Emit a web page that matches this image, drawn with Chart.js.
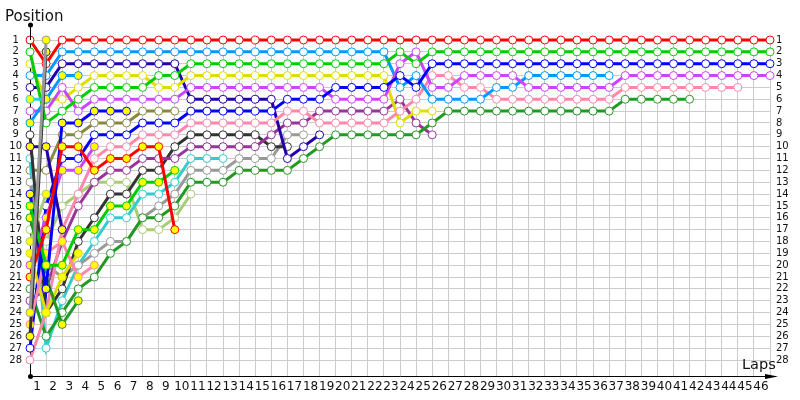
<!DOCTYPE html>
<html>
<head>
<meta charset="utf-8">
<script src="https://cdn.jsdelivr.net/npm/chart.js@4.4.1/dist/chart.umd.min.js"></script>
<style>
  html, body { margin: 0; padding: 0; background: #fff; }
  #wrap { width: 800px; height: 400px; }
</style>
</head>
<body>
<div id="wrap"><canvas id="chart"></canvas></div>
<script>
const laps = [0,1,2,3,4,5,6,7,8,9,10,11,12,13,14,15,16,17,18,19,20,21,22,23,24,25,26,27,28,29,30,31,32,33,34,35,36,37,38,39,40,41,42,43,44,45,46];
const lapTicks = [1,2,3,4,5,6,7,8,9,10,11,12,13,14,15,16,17,18,19,20,21,22,23,24,25,26,27,28,29,30,31,32,33,34,35,36,37,38,39,40,41,42,43,44,45,46];
const posTicks = [1,2,3,4,5,6,7,8,9,10,11,12,13,14,15,16,17,18,19,20,21,22,23,24,25,26,27,28];

// position per lap, index = lap (0 = grid)
const red       = [1,3,1,1,1,1,1,1,1,1,1,1,1,1,1,1,1,1,1,1,1,1,1,1,1,1,1,1,1,1,1,1,1,1,1,1,1,1,1,1,1,1,1,1,1,1,1];
const green     = [2,8,7,6,5,5,5,5,4,4,3,3,3,3,3,3,3,3,3,3,3,3,3,2,3,2,2,2,2,2,2,2,2,2,2,2,2,2,2,2,2,2,2,2,2,2,2];
const blue      = [27,15,11,11,9,9,9,8,8,8,7,7,7,7,7,7,6,6,6,5,5,5,5,4,5,3,3,3,3,3,3,3,3,3,3,3,3,3,3,3,3,3,3,3,3,3,3];
const magenta   = [7,7,5,7,6,6,6,6,6,6,5,5,5,5,5,5,5,5,5,6,6,6,6,3,2,5,5,4,4,4,4,5,5,5,5,5,5,4,4,4,4,4,4,4,4,4,4];
const lightBlue = [4,4,2,2,2,2,2,2,2,2,2,2,2,2,2,2,2,2,2,2,2,2,2,5,4,6,6,6,6,5,5,4,4,4,4,4,4];
const pink      = [28,24,17,14,11,10,10,9,9,9,8,8,8,8,8,8,7,7,8,8,8,8,8,7,6,4,4,5,5,6,6,6,6,6,6,6,6,5,5,5,5,5,5,5,5];
const darkGreen = [22,26,24,22,21,19,18,16,16,15,13,13,13,12,12,12,12,11,10,9,9,9,9,9,9,8,7,7,7,7,7,7,7,7,7,7,7,6,6,6,6,6];
const yellow    = [3,6,6,5,4,4,4,4,5,5,4,4,4,4,4,4,4,4,4,4,4,4,4,8,7,7];
const navy      = [5,5,3,3,3,3,3,3,3,3,6,6,6,6,6,6,11,10,9];
const darkPurple= [23,22,18,15,13,12,12,11,11,11,10,10,10,10,10,9,8,8,7,7,7,7,7,6,8,9];
const black     = [9,24,22,18,16,14,14,12,12,10,9,9,9,9,9,10,10];
const gray      = [13,20,21,20,19,18,18,16,15,14,12,12,12,11,11,11,9,9];
const cyan      = [11,27,23,20,18,16,16,14,14,13,11,11,11];
const lightOlive= [17,18,15,14,13,13,13,17,17,16,14];
const olive     = [12,12,9,9,8,8,8,7,7,7];

// second cars (yellow markers)
const redY       = [21,17,10,10,12,11,11,10,10,17];
const greenY     = [15,20,20,17,17,15,15,13,13,12];
const blueY      = [14,22,8,8,7,7,7];
const magentaY   = [20,16,12,12,10];
const pinkY      = [25,19,18,21,20];
const darkGreenY = [16,21,25,23];
const yellowY    = [19,24,21,19];
const lightBlueY = [8,6,4,4];
const navyY      = [10,10,17];
const blackY     = [26,2];
const grayY      = [24,1];
const cyanY      = [6,6];
const lightOliveY= [18,14];

// first entry is drawn on top
const drivers = [
  [grayY, "#999999", true], [blackY, "#333333", true],
  [redY, "#ff0000", true], [greenY, "#00cc00", true], [blueY, "#0000ff", true],
  [magentaY, "#cc44ff", true], [pinkY, "#ff88aa", true], [darkGreenY, "#229922", true],
  [yellowY, "#dddd00", true], [lightBlueY, "#0099ff", true], [navyY, "#2200aa", true],
  [cyanY, "#33cccc", true], [lightOliveY, "#aacc77", true],
  [red, "#ff0000", false], [green, "#00cc00", false], [blue, "#0000ff", false],
  [magenta, "#cc44ff", false], [lightBlue, "#0099ff", false], [pink, "#ff88aa", false],
  [darkGreen, "#229922", false], [yellow, "#dddd00", false], [navy, "#2200aa", false],
  [darkPurple, "#993399", false], [black, "#333333", false], [gray, "#999999", false],
  [cyan, "#33cccc", false], [lightOlive, "#aacc77", false], [olive, "#888844", false]
];

const datasets = drivers.map(([pos, color, second]) => ({
  data: pos.map((p, i) => ({ x: laps[i], y: p })),
  borderColor: color,
  backgroundColor: color,
  borderWidth: 3,
  pointRadius: 4,
  pointBorderWidth: 1,
  pointBorderColor: color,
  pointBackgroundColor: second ? "#ffff00" : "#ffffff",
  tension: 0,
  clip: false
}));

const axisDecor = {
  id: "axisDecor",
  afterDraw(chart) {
    const { ctx, chartArea: a } = chart;
    ctx.save();
    ctx.strokeStyle = "#000";
    ctx.fillStyle = "#000";
    ctx.lineWidth = 1;
    ctx.beginPath();
    ctx.moveTo(a.left + 0.5, 25);
    ctx.lineTo(a.left + 0.5, a.top);
    ctx.moveTo(a.right, a.bottom + 0.5);
    ctx.lineTo(a.right + 6, a.bottom + 0.5);
    ctx.stroke();
    ctx.beginPath(); ctx.arc(a.left + 0.5, 25, 2.5, 0, Math.PI * 2); ctx.fill();
    ctx.beginPath(); ctx.arc(a.left + 0.5, a.bottom + 0.5, 2.5, 0, Math.PI * 2); ctx.fill();
    ctx.beginPath();
    ctx.moveTo(a.right - 5, a.bottom - 2);
    ctx.lineTo(a.right + 8, a.bottom + 0.5);
    ctx.lineTo(a.right - 5, a.bottom + 3);
    ctx.closePath();
    ctx.fill();
    ctx.fillStyle = "#111";
    ctx.font = "15px 'DejaVu Sans'";
    ctx.textAlign = "left";
    ctx.textBaseline = "alphabetic";
    ctx.fillText("Position", 5, 21);
    ctx.font = "14.5px 'DejaVu Sans'";
    ctx.fillText("Laps", 742, 369);
    ctx.restore();
  }
};

const yTicks = s => { s.ticks = posTicks.map(v => ({ value: v })); };

new Chart(document.getElementById("chart"), {
  type: "line",
  data: { datasets },
  plugins: [axisDecor],
  options: {
    responsive: true,
    maintainAspectRatio: false,
    animation: false,
    events: [],
    layout: { padding: { top: 40, left: 0, right: 0, bottom: 0 } },
    plugins: { legend: { display: false }, tooltip: { enabled: false } },
    scales: {
      x: {
        type: "linear", min: 0, max: 46,
        afterBuildTicks: s => { s.ticks = lapTicks.map(v => ({ value: v })); },
        afterFit: s => { s.height = 24; },
        ticks: { autoSkip: false, maxRotation: 0, labelOffset: -9, padding: 4, color: "#111",
                 font: { family: "DejaVu Sans", size: 12 } },
        grid: { color: "#cccccc", drawTicks: false },
        border: { display: true, color: "#000" }
      },
      y: {
        type: "linear", reverse: true, min: 1, max: 29.35, position: "left",
        afterBuildTicks: yTicks,
        afterFit: s => { s.width = 30; },
        ticks: { autoSkip: false, crossAlign: "center", padding: 8, color: "#111",
                 font: { family: "DejaVu Sans", size: 10 } },
        grid: { color: "#cccccc", drawTicks: false },
        border: { display: true, color: "#000" }
      },
      y2: {
        type: "linear", reverse: true, min: 1, max: 29.35, position: "right",
        afterBuildTicks: yTicks,
        afterFit: s => { s.width = 30; },
        ticks: { autoSkip: false, crossAlign: "near", padding: 6, color: "#111",
                 font: { family: "DejaVu Sans", size: 10 } },
        grid: { display: false, drawTicks: false },
        border: { display: false }
      }
    }
  }
});
</script>
</body>
</html>
